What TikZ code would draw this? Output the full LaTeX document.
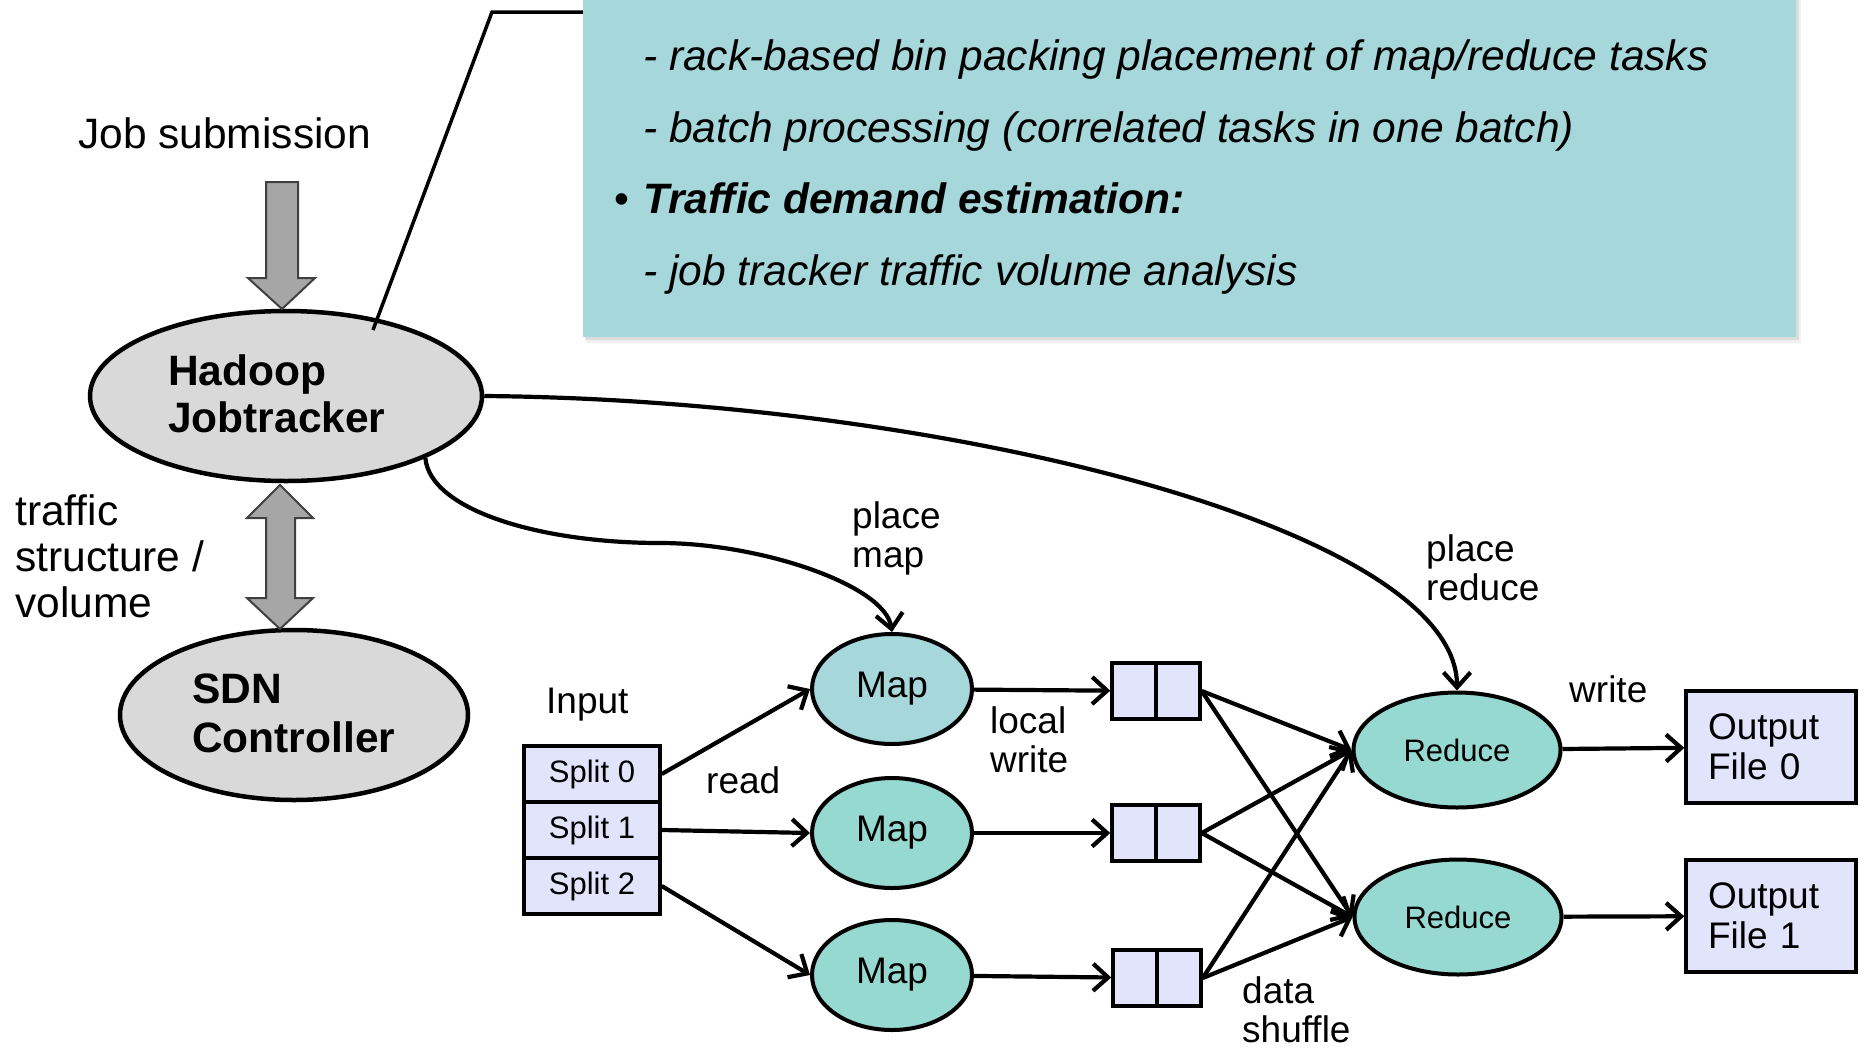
\documentclass[tikz,border=0pt]{standalone}
\usepackage{fontspec}
\setmainfont{Liberation Sans}
\usetikzlibrary{arrows.meta,shapes.geometric,calc,shadows}
\definecolor{ellgray}{HTML}{D9D9D9}
\definecolor{calloutc}{HTML}{A6D7DA}
\definecolor{mapone}{HTML}{A6D7DA}
\definecolor{tealc}{HTML}{96D9D0}
\definecolor{boxc}{HTML}{E1E4FA}
\definecolor{blockc}{HTML}{A6A6A6}
\begin{document}
\begin{tikzpicture}[x=1pt,y=-1pt,
  bigfont/.style={font=\fontsize{42.5}{47}\selectfont},
  midfont/.style={font=\fontsize{37}{39}\selectfont},
  smallfont/.style={font=\fontsize{31}{34}\selectfont},
  lbl/.style={midfont, anchor=base west, inner sep=0pt, align=left},
  biglbl/.style={bigfont, anchor=base west, inner sep=0pt, align=left},
  bigell/.style={ellipse, draw, line width=4.5pt, fill=ellgray, inner sep=0pt},
  taskell/.style={ellipse, draw, line width=4pt, inner sep=0pt},
  sbox/.style={rectangle, draw, line width=3.5pt, fill=boxc, inner sep=0pt,
    drop shadow={opacity=0.2, shadow xshift=2pt, shadow yshift=-2pt}},
  conn/.style={line width=4.2pt, -{Straight Barb[length=15pt,width=27pt]}},
  block/.style={fill=blockc, draw=black!75, line width=2pt, line join=miter},
]
\useasboundingbox (0,0) rectangle (1866,1050);

% callout box
\fill[black, opacity=0.06] (586,-20) rectangle (1801,343);
\fill[black, opacity=0.08] (585,-20) rectangle (1799,340);
\node[fill=calloutc, minimum width=1213pt, minimum height=357pt, inner sep=0pt] (callout) at (1189.5,158.5) {};
\node[biglbl, font=\fontsize{42.5}{47}\selectfont\itshape] (c1) at (643,70) {- rack-based bin packing placement of map/reduce tasks};
\node[biglbl, font=\fontsize{42.5}{47}\selectfont\itshape] (c2) at (643,142) {- batch processing (correlated tasks in one batch)};
\node[biglbl] (c3b) at (614,213) {•};
\node[biglbl, font=\fontsize{42.5}{47}\selectfont\bfseries\itshape] (c3) at (643,213) {Traffic demand estimation:};
\node[biglbl, font=\fontsize{42.5}{47}\selectfont\itshape] (c4) at (643,285) {- job tracker traffic volume analysis};

% ellipses
\node[bigell, minimum width=392pt, minimum height=170pt] (hadoop) at (286,396) {};
\node[biglbl, font=\fontsize{42.5}{47}\selectfont\bfseries] (hadooptxt) at (168,432) {Hadoop\\Jobtracker};
\node[bigell, minimum width=348pt, minimum height=170pt] (sdn) at (294,715) {};
\node[biglbl, font=\fontsize{42.5}{49}\selectfont\bfseries] (sdntxt) at (192,752) {SDN\\Controller};

% callout connector
\coordinate (cp) at (373,330);
\coordinate (ck) at (492,12);
\draw[line width=3.5pt] (cp) -- (ck) -- (ck -| callout.west);

% block arrows
\draw[block] (266,182) -- (298,182) -- (298,278) -- (315,278) -- (282,309) -- (248,278) -- (266,278) -- cycle;
\draw[block] (280,485) -- (313,518) -- (295,518) -- (295,598) -- (313,598) -- (280,629) -- (247,598) -- (266,598) -- (266,518) -- (247,518) -- cycle;

\node[biglbl] (jobsub) at (78,148) {Job submission};
\node[biglbl, font=\fontsize{42.5}{46}\selectfont] (traffic) at (15,617) {traffic\\structure /\\volume};

% splits
\node[sbox, smallfont, minimum width=136pt, minimum height=56pt] (split0) at (592,774) {Split 0};
\node[sbox, smallfont, minimum width=136pt, minimum height=56pt] (split1) at (592,830) {Split 1};
\node[sbox, smallfont, minimum width=136pt, minimum height=56pt] (split2) at (592,886) {Split 2};

% maps
\node[taskell, fill=mapone, midfont, minimum width=160pt, minimum height=110pt] (map1) at (892,689) {Map};
\node[taskell, fill=tealc, midfont, minimum width=160pt, minimum height=110pt] (map2) at (892,833) {Map};
\node[taskell, fill=tealc, midfont, minimum width=160pt, minimum height=110pt] (map3) at (892,975) {Map};

% buffers
\node[sbox, minimum width=88pt, minimum height=56pt] (buf1) at (1156,691) {};
\node[sbox, minimum width=88pt, minimum height=56pt] (buf2) at (1156,833) {};
\node[sbox, minimum width=88pt, minimum height=56pt] (buf3) at (1157,978) {};
\foreach \b in {buf1,buf2,buf3}
  \draw[line width=3.5pt, shorten <=1.75pt, shorten >=1.75pt] (\b.north) -- (\b.south);

% reduces
\node[taskell, fill=tealc, smallfont, minimum width=207pt, minimum height=115pt] (red1) at (1457,750) {Reduce};
\node[taskell, fill=tealc, smallfont, minimum width=207pt, minimum height=115pt] (red2) at (1458,917) {Reduce};

% outputs
\node[sbox, align=left, text width=126pt, minimum width=170pt, minimum height=112pt, font=\fontsize{37}{40}\selectfont] (out0) at (1771,747) {Output\\File 0};
\node[sbox, align=left, text width=126pt, minimum width=170pt, minimum height=112pt, font=\fontsize{37}{40}\selectfont] (out1) at (1771,916) {Output\\File 1};

% connectors
\draw[conn] (split0.east) -- (map1.west);
\draw[conn] (split1.east) -- (map2.west);
\draw[conn] (split2.east) -- (map3.west);
\draw[conn] (map1) -- (buf1);
\draw[conn] (map2) -- (buf2);
\draw[conn] (map3) -- (buf3);
\foreach \b in {buf1,buf2,buf3}{
  \draw[conn] (\b.east) -- (red1.west);
  \draw[conn] (\b.east) -- (red2.west);
}
\draw[conn] (red1) -- (out0);
\draw[conn] (red2) -- (out1);

% placement curves
\draw[conn] (hadoop.-24) .. controls (430,510) and (540,543) .. (660,543)
   .. controls (760,543) and (885,585) .. (map1.north);
\draw[conn] (hadoop.east) .. controls (950,400) and (1457,530) .. (red1.north);

% labels
\node[lbl] (input) at (546,713) {Input};
\node[lbl] (read) at (706,793) {read};
\node[lbl] (placemap) at (852,567) {place\\map};
\node[lbl] (localwrite) at (990,772) {local\\write};
\node[lbl] (placereduce) at (1426,600) {place\\reduce};
\node[lbl] (write) at (1569,702) {write};
\node[lbl] (shuffle) at (1242,1042) {data\\shuffle};
\end{tikzpicture}
\end{document}
